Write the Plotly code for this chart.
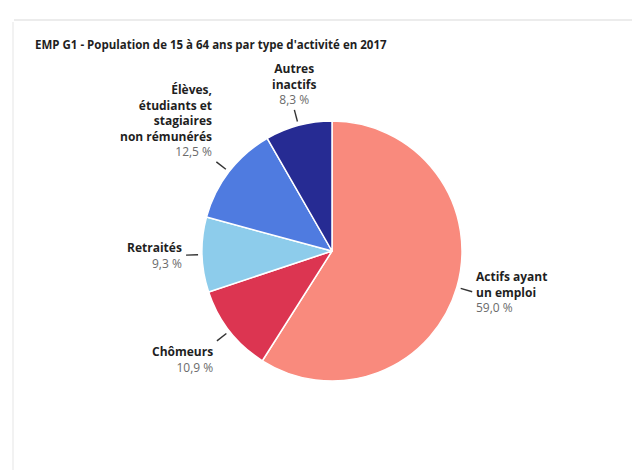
import math
import plotly.graph_objects as go

# Population de 15 à 64 ans par type d'activité, 2017 (en %)
categories = [
    "Actifs ayant<br>un emploi",
    "Chômeurs",
    "Retraités",
    "Élèves,<br>étudiants et<br>stagiaires<br>non rémunérés",
    "Autres<br>inactifs",
]
shares = [59.0, 10.9, 9.3, 12.5, 8.3]
colors = ["#F98A7D", "#DC3551", "#8DCCEB", "#4F7BE0", "#262B93"]

title_text = "EMP G1 - Population de 15 à 64 ans par type d'activité en 2017"

# Canvas and pie geometry (pixels)
W, H = 641, 475
CX, CY, R = 332, 251, 130
FONT = "Open Sans"
LABEL_SIZE = 12

fig = go.Figure()

fig.add_trace(go.Pie(
    labels=[c.replace("<br>", " ") for c in categories],
    values=shares,
    sort=False,
    direction="clockwise",
    rotation=0,
    textinfo="none",
    hoverinfo="label+percent",
    marker=dict(colors=colors, line=dict(color="white", width=1.5)),
    domain=dict(x=[(CX - R) / W, (CX + R) / W],
                y=[1 - (CY + R) / H, 1 - (CY - R) / H]),
    showlegend=False,
))

shapes = []
annotations = []

# Leader ticks and labels placed at each slice's mid angle
total = sum(shares)
cum = 0.0
for name, v in zip(categories, shares):
    mid = (cum + v / 2) / total * 2 * math.pi
    cum += v
    dx, dy = math.sin(mid), -math.cos(mid)  # screen direction (y down)
    x0, y0 = CX + (R + 4) * dx, CY + (R + 4) * dy
    x1, y1 = CX + (R + 16) * dx, CY + (R + 16) * dy
    shapes.append(dict(type="line", xref="x", yref="y", x0=x0, y0=y0, x1=x1, y1=y1,
                       line=dict(color="#333333", width=1.4)))
    xanchor = "center" if abs(dx) < 0.3 else ("left" if dx > 0 else "right")
    yanchor = "middle" if abs(dy) < 0.5 else ("top" if dy > 0 else "bottom")
    pct = f"{v:.1f}".replace(".", ",") + " %"
    annotations.append(dict(
        x=x1, y=y1, xref="x", yref="y", xanchor=xanchor, yanchor=yanchor,
        xshift=2 if xanchor == "left" else -2 if xanchor == "right" else 0,
        align={"left": "left", "right": "right", "center": "center"}[xanchor],
        showarrow=False,
        text=f"<b>{name}</b><br><span style='color:#6b6b6b'>{pct}</span>",
        font=dict(family=FONT, size=LABEL_SIZE, color="#1f1f1f"),
    ))

# Title
annotations.append(dict(
    x=33, y=44, xref="x", yref="y", xanchor="left", yanchor="middle",
    showarrow=False, text=f"<b>{title_text}</b>",
    font=dict(family=FONT, size=11.5, color="#1f1f1f"),
))

# Faint card edges
shapes.append(dict(type="line", xref="x", yref="y", x0=14, y0=20, x1=632, y1=20,
                   line=dict(color="#ececec", width=2)))
shapes.append(dict(type="line", xref="x", yref="y", x0=13, y0=22, x1=13, y1=470,
                   line=dict(color="#f2f2f2", width=2)))

fig.update_layout(
    width=W, height=H,
    margin=dict(l=0, r=0, t=0, b=0),
    paper_bgcolor="white", plot_bgcolor="white",
    xaxis=dict(range=[0, W], visible=False, fixedrange=True),
    yaxis=dict(range=[H, 0], visible=False, fixedrange=True),
    shapes=shapes,
    annotations=annotations,
)

fig.write_html("out.html")
